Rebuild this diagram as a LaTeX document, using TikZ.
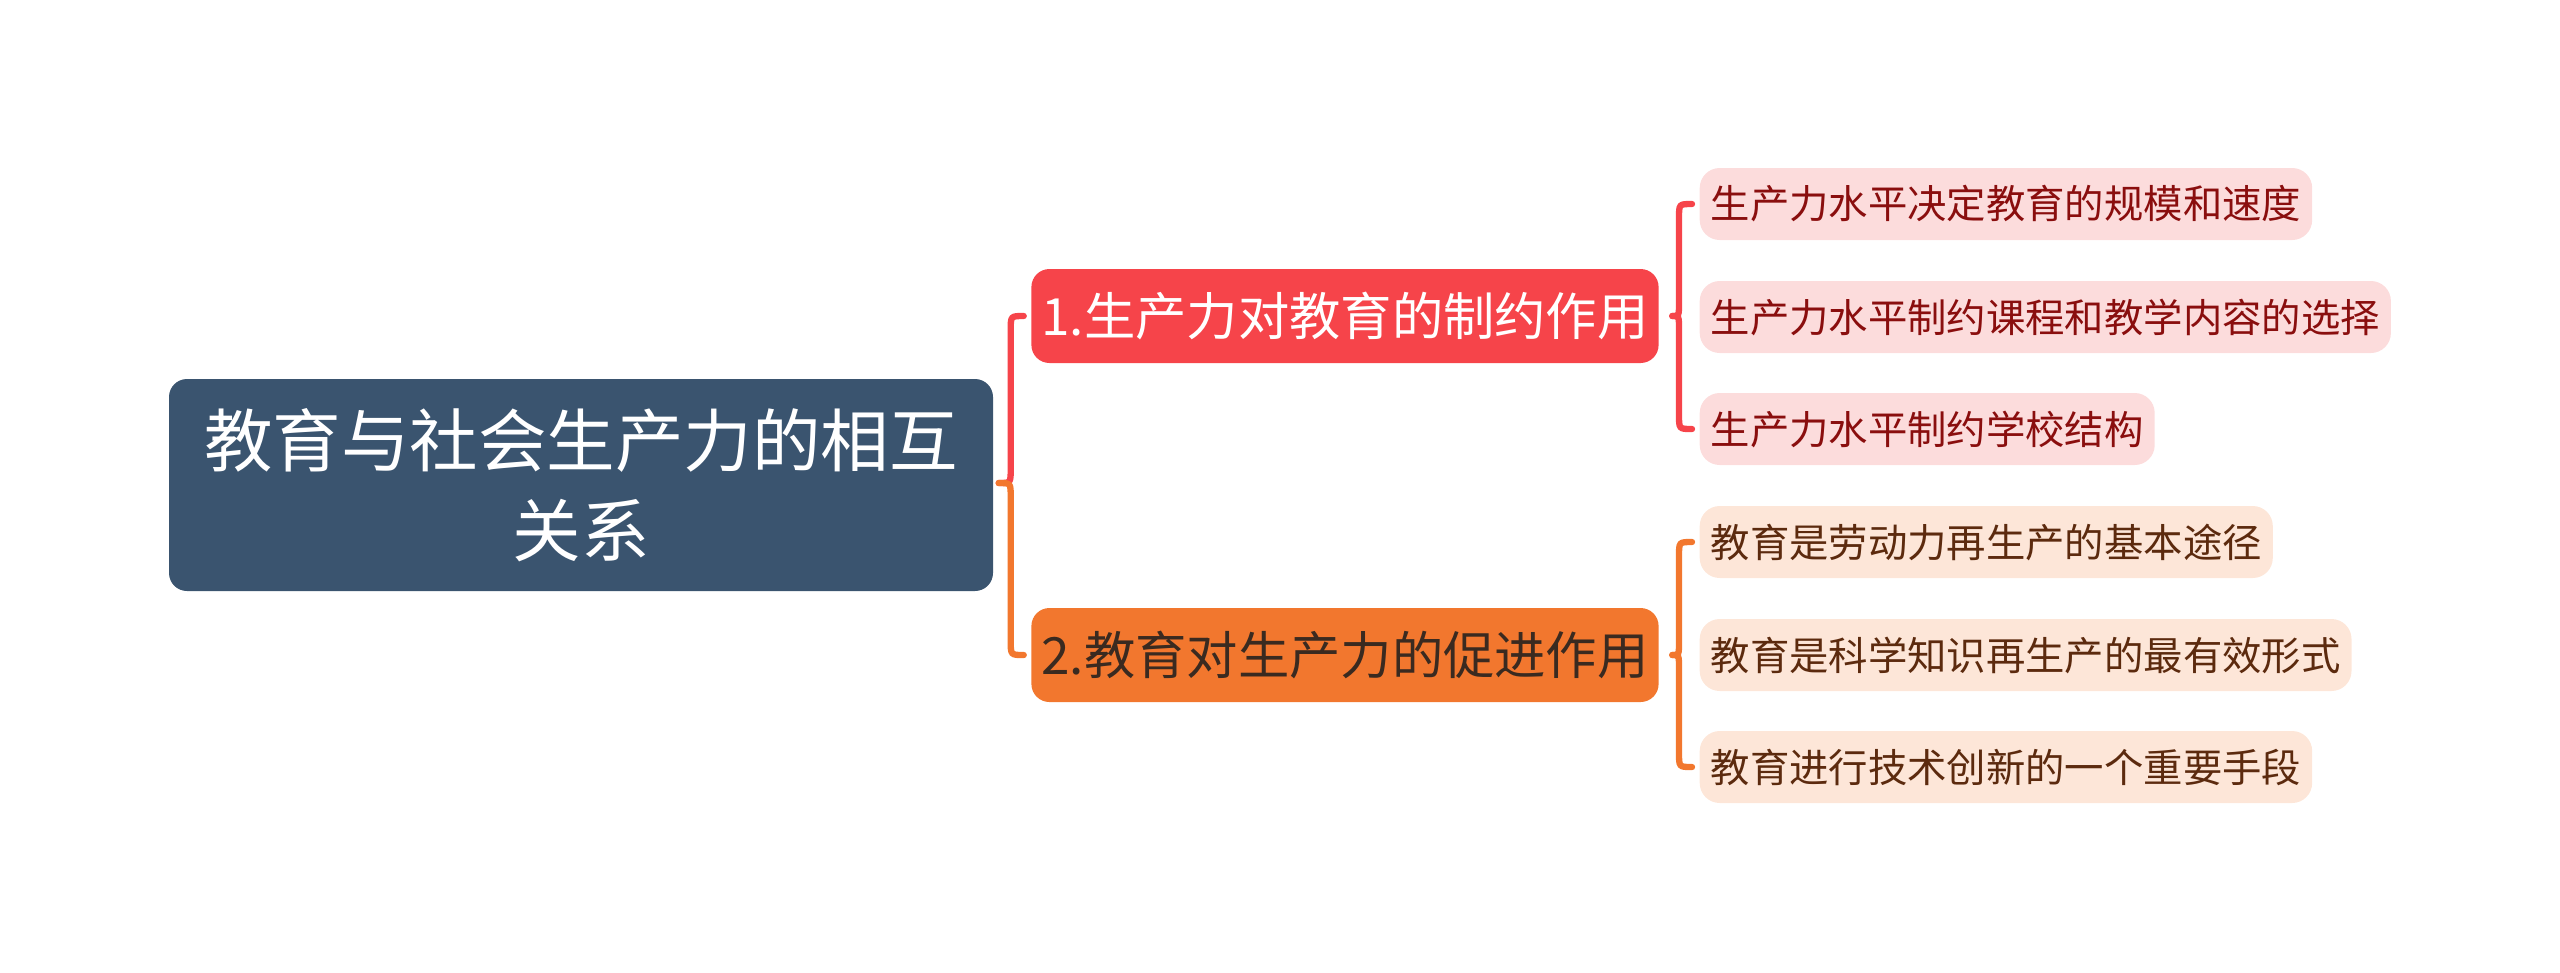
\documentclass[tikz,border=0pt]{standalone}
\usepackage{fontspec}
\usepackage{tikz}
\usetikzlibrary{calc,positioning}
\newfontfamily\cjk{Noto Sans CJK SC}
\definecolor{MapSlate}{HTML}{3A546F}
\definecolor{MapRed}{HTML}{F6444A}
\definecolor{MapOrange}{HTML}{F2772E}
\definecolor{MapRedLeaf}{HTML}{FCDCDC}
\definecolor{MapRedText}{HTML}{8A0E0E}
\definecolor{MapOrangeLeaf}{HTML}{FDE6D8}
\definecolor{MapOrangeText}{HTML}{5C2A0E}
\definecolor{MapDarkText}{HTML}{3A2A20}
\tikzset{
  rootbox/.style={fill=MapSlate,text=white,rounded corners=.18cm,align=center,
    minimum width=8.24cm,minimum height=2.12cm,font=\cjk\fontsize{19.5pt}{25.6pt}\selectfont},
  topicbox/.style={rounded corners=.18cm,minimum width=6.24cm,minimum height=.94cm,
    inner xsep=.1cm,font=\cjk\fontsize{14.6pt}{17pt}\selectfont},
  leafbox/.style={anchor=west,rounded corners=.2cm,minimum height=.72cm,
    inner xsep=.11cm,font=\cjk\fontsize{11.2pt}{13pt}\selectfont},
  link/.style={line width=1.8pt,line cap=round}
}
% brace-like connector: tip -> spine -> child
\newcommand{\branch}[3]{%
  \draw[link,#3] let \p1=(#1), \p2=(#2.west), \n1={ifthenelse(\y2>\y1,1,-1)} in
    (\p1) .. controls (\x2-.2cm,\y1) .. (\x2-.2cm,\y1+\n1*.14cm)
    -- (\x2-.2cm,\y2-\n1*.14cm) .. controls (\x2-.2cm,\y2) .. (\x2-.07cm,\y2);}
\begin{document}
\begin{tikzpicture}
  \useasboundingbox (0,0) rectangle (25.6,-9.72);
  \node[rootbox] (root) at (5.81,-4.85) {教育与社会生产力的相互\\关系};
  \node[topicbox,fill=MapRed,text=white] (effect) at (13.45,-3.16) {1.生产力对教育的制约作用};
  \node[topicbox,fill=MapOrange,text=MapDarkText] (promote) at (13.45,-6.55) {2.教育对生产力的促进作用};
  % leaves of the first topic
  \node[leafbox,fill=MapRedLeaf,text=MapRedText] (scale) at (16.99,-2.04) {生产力水平决定教育的规模和速度};
  \node[leafbox,fill=MapRedLeaf,text=MapRedText] (course) at (16.99,-3.17) {生产力水平制约课程和教学内容的选择};
  \node[leafbox,fill=MapRedLeaf,text=MapRedText] (school) at (16.99,-4.29) {生产力水平制约学校结构};
  % leaves of the second topic
  \node[leafbox,fill=MapOrangeLeaf,text=MapOrangeText] (labour) at (16.99,-5.42) {教育是劳动力再生产的基本途径};
  \node[leafbox,fill=MapOrangeLeaf,text=MapOrangeText] (science) at (16.99,-6.55) {教育是科学知识再生产的最有效形式};
  \node[leafbox,fill=MapOrangeLeaf,text=MapOrangeText] (tech) at (16.99,-7.67) {教育进行技术创新的一个重要手段};
  \coordinate (rootTip) at ($(root.east)+(.05,.02)$);
  \coordinate (effectTip) at ($(effect.east)+(.13,0)$);
  \coordinate (promoteTip) at ($(promote.east)+(.13,0)$);
  \branch{rootTip}{effect}{MapRed}
  \branch{rootTip}{promote}{MapOrange}
  \branch{effectTip}{scale}{MapRed}
  \branch{effectTip}{school}{MapRed}
  \branch{promoteTip}{labour}{MapOrange}
  \branch{promoteTip}{tech}{MapOrange}
\end{tikzpicture}
\end{document}
